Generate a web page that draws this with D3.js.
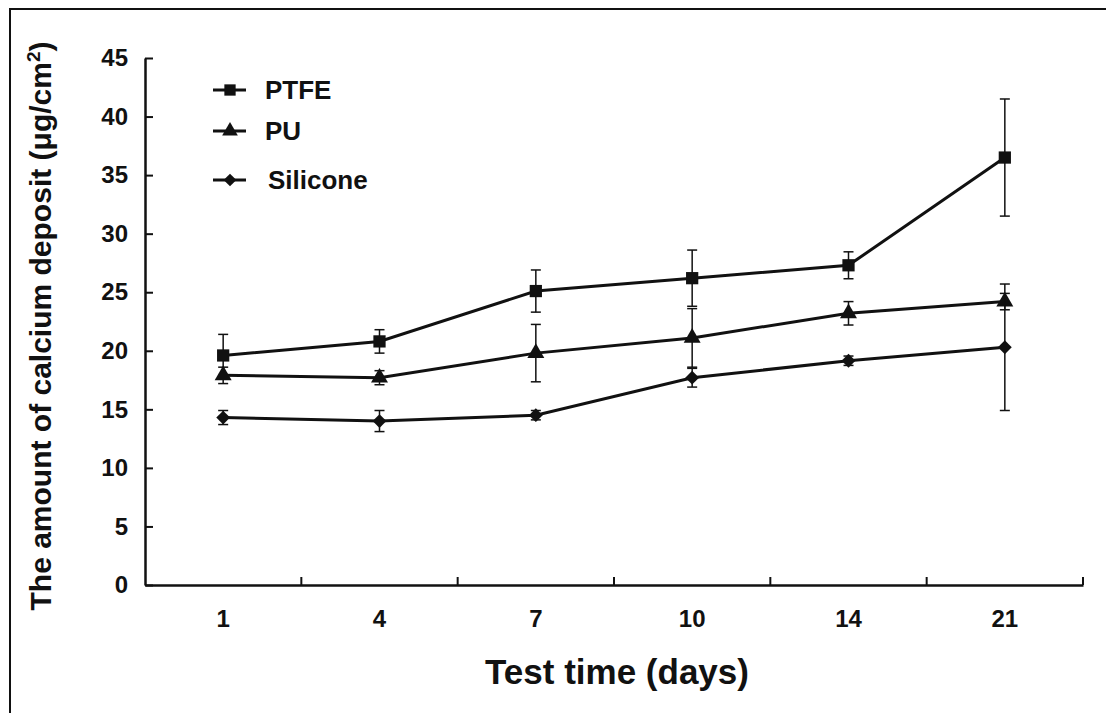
<!DOCTYPE html>
<meta charset="utf-8">
<script src="https://d3js.org/d3.v7.min.js"></script>
<style>
  body { margin: 0; background: #fff; }
  text { font-family: Arial, "Liberation Sans", sans-serif; font-weight: bold; fill: #111; }
</style>
<div id="chart"></div>
<script>

// data
var days = ["1", "4", "7", "10", "14", "21"]
var yTicks = [0, 5, 10, 15, 20, 25, 30, 35, 40, 45]

var ptfe = [19.6, 20.8, 25.1, 26.2, 27.3, 36.5]
var ptfeErr = [1.8, 1.0, 1.8, 2.4, 1.15, 5.0]
var pu = [17.9, 17.7, 19.8, 21.1, 23.2, 24.2]
var puErr = [0.7, 0.6, 2.45, 2.5, 1.0, 0.7]
var silicone = [14.3, 14.0, 14.5, 17.7, 19.15, 20.3]
var siliconeErr = [0.6, 0.9, 0.4, 0.8, 0.4, 5.4]

// diamond = square turned 45 degrees (wider than d3's symbolDiamond)
var series = [
  {name: "PTFE", values: ptfe, err: ptfeErr, symbol: d3.symbolSquare, size: 150, rot: 0},
  {name: "PU", values: pu, err: puErr, symbol: d3.symbolTriangle, size: 125, rot: 0},
  {name: "Silicone", values: silicone, err: siliconeErr, symbol: d3.symbolSquare, size: 95, rot: 45}
]

var w = 1106, h = 713
var plotLeft = 145, plotRight = 1083, plotTop = 58, plotBottom = 585

var svg = d3.select("#chart").append("svg")
    .attr("width", w)
    .attr("height", h)

// scanned-page frame
svg.append("rect")
    .attr("x", 10).attr("y", 9)
    .attr("width", 1120).attr("height", 740)
    .attr("fill", "none").attr("stroke", "#111").attr("stroke-width", 2)

var x = d3.scaleBand().domain(days).range([plotLeft, plotRight]).padding(0)
var y = d3.scaleLinear().domain([0, 45]).range([plotBottom, plotTop])
var cx = function(i) { return x(days[i]) + x.bandwidth() / 2 }

// y axis
var yAxis = svg.append("g")
    .attr("transform", `translate(${plotLeft},0)`)
    .call(d3.axisLeft(y).tickValues(yTicks).tickSizeInner(-8).tickSizeOuter(0).tickPadding(17))
yAxis.select(".domain").attr("stroke", "#111").attr("stroke-width", 2.5)
yAxis.selectAll(".tick line").attr("stroke", "#111").attr("stroke-width", 2)
yAxis.selectAll(".tick text").attr("font-size", "24px")

// x axis (labels at band centres, ticks at band edges)
var xAxis = svg.append("g")
    .attr("transform", `translate(0,${plotBottom})`)
    .call(d3.axisBottom(x).tickSize(0).tickPadding(25))
xAxis.select(".domain").attr("stroke", "#111").attr("stroke-width", 2.5)
xAxis.selectAll(".tick text").attr("font-size", "24px")
xAxis.selectAll("line.edge")
  .data(days)
  .enter()
  .append("line")
    .attr("class", "edge")
    .attr("x1", d => x(d) + x.bandwidth())
    .attr("x2", d => x(d) + x.bandwidth())
    .attr("y1", 0).attr("y2", -8)
    .attr("stroke", "#111").attr("stroke-width", 2)

// axis titles
svg.append("text")
    .attr("x", (plotLeft + plotRight) / 2 + 3)
    .attr("y", 684)
    .attr("text-anchor", "middle")
    .attr("font-size", "35px")
    .text("Test time (days)")

var ylab = svg.append("text")
    .attr("transform", "translate(51,326) rotate(-90)")
    .attr("text-anchor", "middle")
    .attr("font-size", "30px")
ylab.append("tspan").text("The amount of calcium deposit (\u03bcg/cm")
ylab.append("tspan").attr("font-size", "19px").attr("dy", "-11").text("2")
ylab.append("tspan").attr("dy", "11").text(")")

// series
var line = d3.line().x((d, i) => cx(i)).y(d => y(d))

series.forEach(function(s) {
  var g = svg.append("g")

  // error bars
  s.values.forEach(function(v, i) {
    var e = s.err[i]
    g.append("line")
      .attr("x1", cx(i)).attr("x2", cx(i))
      .attr("y1", y(v - e)).attr("y2", y(v + e))
      .attr("stroke", "#111").attr("stroke-width", 1.5)
    ;[v - e, v + e].forEach(function(c) {
      g.append("line")
        .attr("x1", cx(i) - 5).attr("x2", cx(i) + 5)
        .attr("y1", y(c)).attr("y2", y(c))
        .attr("stroke", "#111").attr("stroke-width", 1.5)
    })
  })

  g.append("path")
    .datum(s.values)
    .attr("d", line)
    .attr("fill", "none")
    .attr("stroke", "#111")
    .attr("stroke-width", 3)

  g.selectAll("path.mark")
    .data(s.values)
    .enter()
    .append("path")
      .attr("class", "mark")
      .attr("d", d3.symbol().type(s.symbol).size(s.size))
      .attr("transform", (d, i) => `translate(${cx(i)},${y(d)}) rotate(${s.rot})`)
      .attr("fill", "#111")
})

// legend
var legendY = [90, 131, 180]
var legendX = [265, 265, 268]
series.forEach(function(s, i) {
  var lg = svg.append("g").attr("transform", `translate(213,${legendY[i]})`)
  lg.append("line")
    .attr("x1", 0).attr("x2", 33).attr("y1", 0).attr("y2", 0)
    .attr("stroke", "#111").attr("stroke-width", 3)
  lg.append("path")
    .attr("d", d3.symbol().type(s.symbol).size(s.size * 0.85))
    .attr("transform", `translate(17,0) rotate(${s.rot})`)
    .attr("fill", "#111")
  lg.append("text")
    .attr("x", legendX[i] - 213)
    .attr("dy", "0.36em")
    .attr("font-size", "26px")
    .text(s.name)
})

</script>
